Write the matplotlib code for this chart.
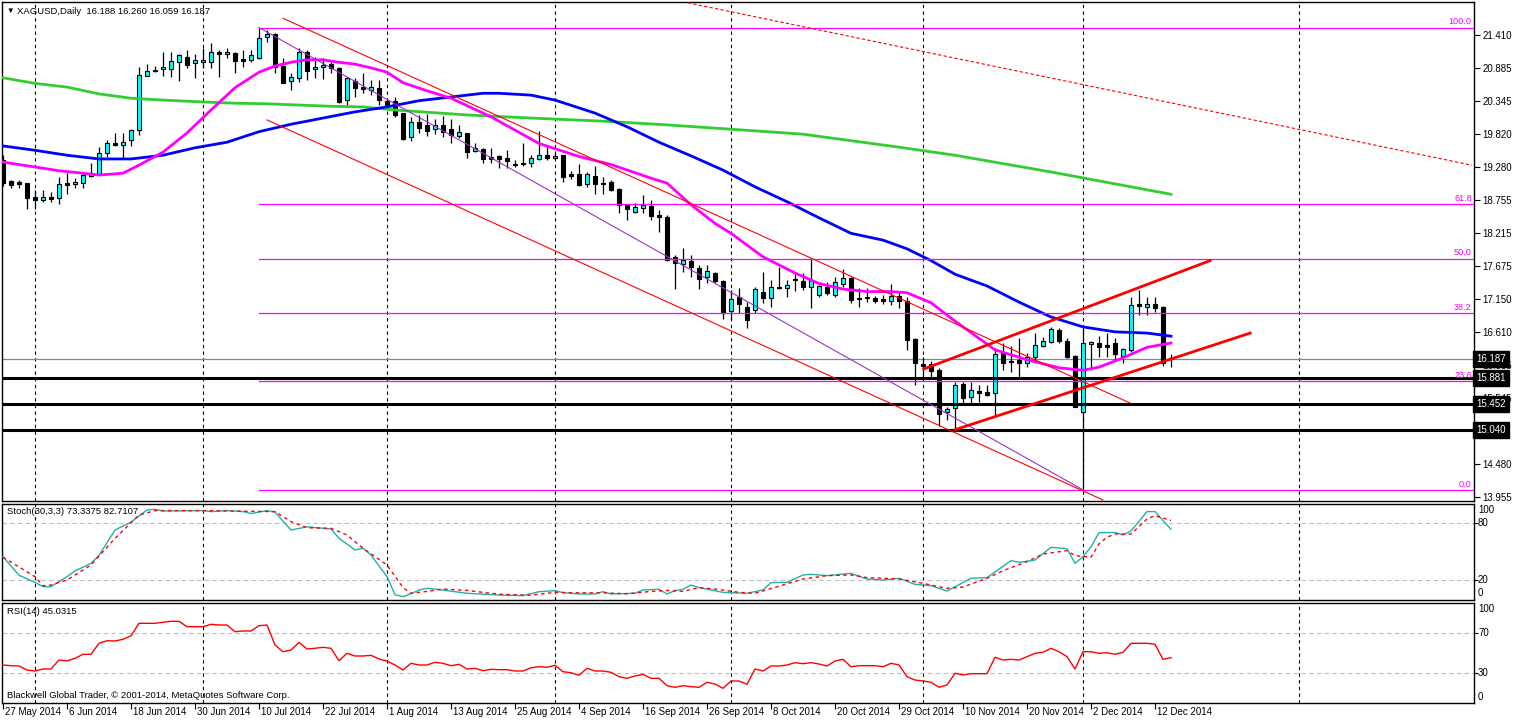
import matplotlib
matplotlib.use("Agg")
import matplotlib.pyplot as plt
import matplotlib.transforms as mtransforms
import numpy as np

plt.rcParams["font.family"] = ["Liberation Sans", "DejaVu Sans"]

# XAGUSD daily candles, 27 May 2014 .. 16 Dec 2014
opens = [
    19.39, 19.05, 19.04, 19.02, 18.80, 18.75, 18.80, 18.78, 19.02, 19.00,
    19.02, 19.14, 19.17, 19.51, 19.67, 19.64, 19.72, 19.88, 20.75, 20.85,
    20.86, 20.86, 20.97, 21.06, 20.96, 20.97, 20.97, 21.14, 21.10, 21.12,
    21.02, 21.01, 21.04, 21.38, 21.43, 20.91, 20.67, 20.72, 21.14, 20.86,
    20.89, 20.94, 20.88, 20.36, 20.67, 20.57, 20.52, 20.56, 20.35, 20.35,
    20.15, 19.77, 20.01, 19.96, 19.89, 19.96, 19.89, 19.78, 19.83, 19.54,
    19.57, 19.44, 19.46, 19.42, 19.33, 19.34, 19.34, 19.41, 19.47, 19.42,
    19.47, 19.17, 19.17, 19.01, 19.14, 19.02, 19.04, 18.92, 18.67, 18.55,
    18.62, 18.65, 18.51, 18.47, 17.83, 17.72, 17.76, 17.65, 17.51, 17.57,
    17.44, 16.96, 17.18, 17.02, 16.97, 17.26, 17.17, 17.34, 17.33, 17.47,
    17.44, 17.34, 17.22, 17.34, 17.22, 17.39, 17.49, 17.17, 17.18, 17.17,
    17.15, 17.12, 17.20, 17.12, 16.50, 16.10, 16.10, 16.00, 15.33, 15.39,
    15.78, 15.57, 15.66, 15.65, 15.63, 16.29, 16.15, 16.17, 16.12, 16.21,
    16.39, 16.46, 16.65, 16.47, 16.23, 15.33, 16.42, 16.44, 16.41, 16.44,
    16.23, 16.33, 17.07, 17.02, 17.07, 17.02, 16.188,
]
highs = [
    19.47, 19.07, 19.07, 19.03, 18.91, 18.91, 18.88, 19.12, 19.18, 19.10,
    19.18, 19.34, 19.60, 19.72, 19.83, 19.83, 19.89, 20.89, 20.94, 20.91,
    21.14, 21.14, 21.10, 21.17, 21.10, 21.20, 21.28, 21.17, 21.20, 21.14,
    21.17, 21.17, 21.53, 21.49, 21.44, 21.04, 20.80, 21.20, 21.17, 21.06,
    21.04, 20.97, 20.90, 20.73, 20.72, 20.80, 20.68, 20.68, 20.36, 20.41,
    20.15, 20.09, 20.12, 20.14, 20.05, 20.10, 20.05, 19.96, 19.83, 19.67,
    19.59, 19.59, 19.47, 19.55, 19.39, 19.67, 19.47, 19.86, 19.60, 19.51,
    19.47, 19.22, 19.33, 19.20, 19.30, 19.12, 19.07, 18.94, 18.67, 18.70,
    18.83, 18.75, 18.59, 18.51, 17.86, 17.97, 17.86, 17.70, 17.70, 17.59,
    17.46, 17.30, 17.33, 17.10, 17.34, 17.59, 17.46, 17.67, 17.46, 17.57,
    17.57, 17.81, 17.38, 17.42, 17.51, 17.63, 17.50, 17.33, 17.33, 17.20,
    17.21, 17.39, 17.26, 17.18, 16.52, 16.21, 16.15, 16.04, 15.41, 15.81,
    15.81, 15.81, 15.76, 15.76, 16.36, 16.44, 16.39, 16.52, 16.28, 16.60,
    16.54, 16.70, 16.68, 16.52, 16.25, 16.73, 16.47, 16.55, 16.60, 16.52,
    16.36, 17.18, 17.30, 17.18, 17.18, 17.04, 16.260,
]
lows = [
    18.97, 18.94, 18.94, 18.60, 18.60, 18.72, 18.72, 18.68, 18.84, 18.94,
    18.94, 19.12, 19.15, 19.44, 19.62, 19.43, 19.62, 19.80, 20.75, 20.81,
    20.75, 20.73, 20.67, 20.88, 20.72, 20.88, 20.88, 20.73, 21.04, 20.80,
    20.89, 20.97, 21.02, 21.30, 20.80, 20.64, 20.52, 20.65, 20.68, 20.72,
    20.70, 20.80, 20.31, 20.28, 20.41, 20.47, 20.44, 20.28, 20.23, 20.09,
    19.72, 19.70, 19.83, 19.78, 19.81, 19.77, 19.67, 19.75, 19.43, 19.52,
    19.34, 19.34, 19.26, 19.26, 19.28, 19.30, 19.28, 19.39, 19.39, 19.41,
    19.04, 19.09, 18.97, 18.96, 18.84, 18.84, 18.89, 18.54, 18.43, 18.54,
    18.54, 18.43, 18.23, 17.76, 17.31, 17.59, 17.51, 17.31, 17.41, 17.41,
    16.83, 16.81, 16.92, 16.68, 16.92, 17.09, 17.02, 17.31, 17.18, 17.28,
    17.30, 17.00, 17.18, 17.22, 17.18, 17.34, 17.09, 17.02, 17.10, 17.09,
    17.07, 17.05, 17.00, 16.33, 15.76, 15.88, 15.89, 15.10, 15.20, 15.04,
    15.47, 15.47, 15.49, 15.59, 15.25, 16.00, 15.97, 15.88, 16.05, 16.13,
    16.38, 16.44, 16.44, 16.20, 15.40, 14.07, 16.00, 16.21, 16.21, 16.17,
    16.12, 16.30, 16.89, 16.89, 16.94, 16.07, 16.059,
]
closes = [
    19.02, 18.99, 19.01, 18.78, 18.75, 18.80, 18.76, 19.01, 18.99, 19.04,
    19.15, 19.18, 19.51, 19.67, 19.64, 19.68, 19.88, 20.77, 20.83, 20.83,
    20.89, 20.99, 21.09, 20.93, 21.01, 21.01, 21.14, 21.10, 21.14, 20.99,
    20.99, 21.09, 21.36, 21.43, 20.89, 20.64, 20.73, 21.14, 20.83, 20.89,
    20.93, 20.88, 20.33, 20.72, 20.56, 20.54, 20.57, 20.36, 20.28, 20.12,
    19.73, 20.01, 19.91, 19.86, 19.96, 19.85, 19.80, 19.85, 19.52, 19.59,
    19.41, 19.41, 19.41, 19.38, 19.31, 19.33, 19.42, 19.47, 19.42, 19.46,
    19.12, 19.14, 18.99, 19.17, 19.01, 19.01, 18.91, 18.67, 18.60, 18.64,
    18.67, 18.49, 18.47, 17.78, 17.73, 17.78, 17.67, 17.47, 17.60, 17.44,
    16.92, 17.15, 17.07, 16.81, 17.31, 17.17, 17.34, 17.33, 17.38, 17.46,
    17.34, 17.46, 17.36, 17.25, 17.43, 17.49, 17.13, 17.15, 17.17, 17.12,
    17.12, 17.20, 17.12, 16.49, 16.12, 16.07, 15.99, 15.29, 15.38, 15.76,
    15.55, 15.68, 15.63, 15.60, 16.26, 16.12, 16.13, 16.12, 16.21, 16.41,
    16.47, 16.67, 16.47, 16.21, 15.41, 16.44, 16.46, 16.38, 16.38, 16.26,
    16.34, 17.05, 17.04, 17.07, 17.01, 16.12, 16.187,
]

# moving averages (bar index, price)
ma_fast_bars = [0, 4, 7, 10, 12, 15, 17, 20, 23, 26, 29, 32, 34, 36, 38, 40, 42, 44, 46, 48,
                50, 53, 56, 61, 67, 72, 76, 81, 83, 86, 89, 91, 95, 99, 102, 105, 108, 111, 113, 116,
                118, 120, 124, 128, 132, 135, 137, 140, 143, 146]
ma_fast = [19.36, 19.28, 19.22, 19.18, 19.15, 19.18, 19.31, 19.52, 19.83, 20.20,
           20.56, 20.81, 20.91, 20.97, 21.01, 21.01, 20.97, 20.94, 20.88, 20.81,
           20.64, 20.51, 20.39, 20.09, 19.66, 19.45, 19.32, 19.10, 19.02, 18.67,
           18.37, 18.21, 17.83, 17.57, 17.40, 17.31, 17.27, 17.27, 17.25, 17.09,
           16.89, 16.70, 16.33, 16.17, 16.04, 16.00, 16.05, 16.20, 16.37, 16.44]
ma_mid_bars = [0, 4, 8, 12, 16, 20, 24, 28, 32, 36, 40, 44, 48, 52, 56, 60, 62, 66, 69, 74,
               78, 82, 86, 90, 94, 98, 102, 106, 110, 113, 116, 119, 123, 127, 131, 135, 139, 143, 146]
ma_mid = [19.62, 19.55, 19.47, 19.41, 19.41, 19.47, 19.59, 19.68, 19.85, 19.97,
          20.07, 20.17, 20.25, 20.35, 20.41, 20.47, 20.47, 20.44, 20.36, 20.15,
          19.93, 19.68, 19.46, 19.23, 18.96, 18.72, 18.46, 18.21, 18.10, 17.96,
          17.77, 17.55, 17.36, 17.10, 16.86, 16.70, 16.62, 16.60, 16.55]
ma_slow_bars = [0, 4, 8, 12, 16, 20, 25, 29, 33, 37, 41, 45, 49, 58, 66, 75, 83, 91, 100, 112,
                119, 131, 146]
ma_slow = [20.72, 20.63, 20.57, 20.46, 20.39, 20.36, 20.33, 20.31, 20.30, 20.28,
           20.26, 20.25, 20.20, 20.12, 20.07, 20.02, 19.96, 19.89, 19.81, 19.60,
           19.47, 19.20, 18.84]

stoch_k_bars = [0, 2, 4, 5, 6, 8, 9, 11, 12, 14, 16, 18, 19, 20, 25, 26, 28, 30, 31, 33,
                34, 36, 38, 41, 42, 44, 45, 46, 48, 49, 50, 51, 52, 53, 54, 58, 62, 65, 67, 69,
                70, 72, 74, 75, 76, 79, 80, 82, 83, 84, 85, 86, 87, 90, 93, 95, 96, 98, 100, 101,
                103, 106, 108, 110, 112, 114, 116, 118, 121, 123, 126, 127, 129, 131, 133, 134, 135, 136, 137, 139,
                140, 141, 143, 144, 146]
stoch_k = [44.5, 25.0, 17.5, 13.0, 13.0, 23.5, 29.5, 37.5, 46.0, 72.6,
           81.0, 93.7, 94.4, 92.6, 93.0, 92.0, 93.0, 92.0, 90.0, 93.0,
           91.5, 72.6, 76.0, 73.7, 64.0, 51.6, 53.4, 46.3, 23.5, 4.5,
           2.5, 5.5, 9.5, 11.2, 10.5, 6.0, 4.2, 3.5, 7.7, 8.8,
           6.7, 5.3, 5.3, 7.7, 5.3, 6.0, 9.5, 10.2, 5.3, 8.8,
           10.2, 14.7, 12.0, 7.0, 6.0, 9.5, 17.2, 17.5, 25.3, 26.0,
           24.6, 27.0, 21.0, 20.0, 21.8, 15.4, 14.0, 8.4, 21.8, 22.5,
           40.4, 38.6, 41.0, 54.4, 53.0, 37.5, 44.5, 55.0, 69.8, 70.0,
           67.4, 71.6, 92.0, 92.0, 73.3]
stoch_d_bars = [0, 4, 5, 6, 8, 11, 14, 17, 19, 25, 34, 36, 38, 41, 43, 45, 48, 50, 51, 53,
                55, 58, 62, 66, 69, 72, 75, 78, 81, 83, 85, 87, 89, 92, 94, 96, 98, 100, 103, 106,
                108, 112, 115, 118, 120, 123, 125, 128, 130, 133, 134, 136, 137, 138, 139, 141, 143, 144, 146]
stoch_d = [44.0, 23.5, 14.0, 14.7, 20.0, 35.8, 63.9, 88.4, 93.0, 93.0,
           92.0, 81.4, 75.0, 74.4, 67.4, 53.4, 35.8, 12.0, 6.0, 8.0,
           10.5, 9.0, 5.0, 4.0, 7.0, 6.5, 6.5, 5.5, 8.0, 9.0,
           8.0, 12.0, 10.5, 7.0, 6.0, 11.0, 16.0, 21.0, 24.6, 25.3,
           22.5, 21.1, 16.5, 11.2, 12.6, 21.8, 29.8, 39.3, 47.4, 50.9,
           45.6, 44.0, 58.0, 65.0, 68.4, 68.4, 84.2, 87.7, 82.7]

rsi = [
    37.7, 37.0, 36.7, 32.7, 31.7, 33.7, 33.7, 42.7, 41.7, 44.4,
    48.4, 48.4, 59.4, 62.0, 61.7, 63.4, 67.0, 79.4, 79.4, 79.4,
    80.4, 81.4, 81.4, 76.0, 76.0, 76.0, 78.4, 77.7, 77.7, 71.0,
    71.7, 71.7, 77.0, 77.7, 57.7, 51.0, 52.7, 60.4, 53.7, 54.4,
    55.4, 54.4, 42.0, 49.4, 46.7, 46.7, 47.4, 43.7, 41.7, 37.7,
    32.7, 39.4, 37.7, 37.7, 40.4, 39.4, 37.0, 38.4, 33.7, 34.4,
    32.0, 33.4, 33.0, 33.0, 31.7, 31.7, 35.0, 36.0, 35.4, 37.4,
    31.0, 30.0, 27.4, 34.4, 31.7, 31.7, 30.4, 26.0, 24.4, 26.7,
    28.4, 24.4, 24.4, 17.0, 15.4, 17.0, 16.0, 15.4, 20.4, 18.7,
    14.4, 21.7, 21.7, 18.4, 33.7, 31.7, 36.7, 36.7, 37.7, 40.0,
    39.0, 40.0, 38.7, 36.7, 41.7, 43.4, 36.0, 37.0, 37.0, 37.0,
    36.0, 39.4, 37.7, 26.0, 22.7, 21.7, 20.4, 15.4, 17.7, 29.4,
    27.7, 29.0, 29.0, 29.0, 45.4, 42.7, 43.4, 42.7, 46.0, 49.4,
    50.4, 54.4, 51.0, 46.0, 33.7, 51.0, 51.0, 49.4, 50.0, 48.4,
    50.4, 59.4, 59.4, 59.4, 58.4, 43.4, 45.0,
]

date_bars = [0, 8, 16, 24, 32, 40, 48, 56, 64, 72, 80, 88, 96, 104, 112, 120, 128, 136, 144]
date_labels = ["27 May 2014", "6 Jun 2014", "18 Jun 2014", "30 Jun 2014", "10 Jul 2014",
               "22 Jul 2014", "1 Aug 2014", "13 Aug 2014", "25 Aug 2014", "4 Sep 2014",
               "16 Sep 2014", "26 Sep 2014", "8 Oct 2014", "20 Oct 2014", "29 Oct 2014",
               "10 Nov 2014", "20 Nov 2014", "2 Dec 2014", "12 Dec 2014"]
separator_bars = [4, 25, 48, 69, 91, 115, 135, 162]
price_ticks = [21.410, 20.885, 20.345, 19.820, 19.280, 18.755, 18.215, 17.675,
               17.150, 16.610, 16.085, 15.545, 14.480, 13.955]

support_levels = [15.881, 15.452, 15.040]
bid = 16.187
fib_ratios = [0.0, 23.6, 38.2, 50.0, 61.8, 100.0]
fib_start, fib_end = 32, 135

# drawn objects: (bar, price) end points
channel_top = [(35.0, 21.68), (140.9, 15.47)]
channel_bottom = [(33.0, 20.04), (137.5, 13.906)]
rising_top = [(115.1, 16.02), (150.9, 17.77)]
rising_bottom = [(119.0, 15.04), (155.9, 16.60)]
long_dotted = [(85.6, 21.93), (183.6, 19.31)]

W, H = 1514, 721
XMIN, XMAX = -0.125, 183.875
dash = (0, (3, 3))


def frame(ax):
    for s in ax.spines.values():
        s.set_color("black")
        s.set_linewidth(1.0)
    ax.set_xlim(XMIN, XMAX)
    ax.set_facecolor("white")
    for b in separator_bars:
        ax.axvline(b, color="black", lw=0.8, ls=dash, zorder=0.5)


fig = plt.figure(figsize=(W / 100, H / 100), dpi=100)
left, width = 2 / W, 1472 / W
ax = fig.add_axes([left, 1 - 501 / H, width, 499 / H])
ax_st = fig.add_axes([left, 1 - 600 / H, width, 96 / H])
ax_rsi = fig.add_axes([left, 1 - 703 / H, width, 100 / H])

# ---- price panel
frame(ax)
ax.set_ylim(13.890, 21.943)
x = np.arange(len(opens))
o, h, l, c = (np.array(v) for v in (opens, highs, lows, closes))
up = c > o
bottom = np.minimum(o, c)
height = np.maximum(np.abs(c - o), 0.012)
ax.vlines(x, l, h, color="black", lw=0.9, zorder=2)
ax.bar(x[up], height[up], bottom=bottom[up], width=0.6, color="#00FFFF",
       edgecolor="black", linewidth=0.8, zorder=2.2)
ax.bar(x[~up], height[~up], bottom=bottom[~up], width=0.6, color="black",
       edgecolor="black", linewidth=0.8, zorder=2.2)

ax.plot(ma_slow_bars, ma_slow, color="#32CD32", lw=2.0, zorder=3)
ax.plot(ma_mid_bars, ma_mid, color="#0000FF", lw=2.0, zorder=3)
ax.plot(ma_fast_bars, ma_fast, color="#FF00FF", lw=2.0, zorder=3)

ax.axhline(bid, color="#778899", lw=0.9, zorder=1.5)
for lvl in support_levels:
    ax.axhline(lvl, color="black", lw=2.2, zorder=4)

fib_hi, fib_lo = highs[fib_start], lows[fib_end]
ytr = mtransforms.blended_transform_factory(ax.transAxes, ax.transData)
for r in fib_ratios:
    lvl = fib_lo + r / 100 * (fib_hi - fib_lo)
    ax.plot([fib_start, XMAX], [lvl, lvl], color="#FF00FF", lw=0.9, zorder=4)
    ax.text(0.9985, lvl + 0.02, f"{r:.1f}", transform=ytr, ha="right", va="bottom",
            color="#FF00FF", fontsize=6.6, zorder=5)
ax.plot([fib_start, fib_end], [fib_hi, fib_lo], color="#9932CC", lw=0.8, zorder=4)

for seg in (channel_top, channel_bottom):
    ax.plot(*zip(*seg), color="red", lw=0.8, zorder=4)
for seg in (rising_top, rising_bottom):
    ax.plot(*zip(*seg), color="red", lw=2.0, zorder=4)
ax.plot(*zip(*long_dotted), color="red", lw=0.8, ls=(0, (3, 2)), zorder=4)

ax.set_xticks([])
ax.yaxis.tick_right()
ax.set_yticks(price_ticks, [f"{v:.3f}" for v in price_ticks])
ax.tick_params(axis="y", direction="out", length=4, width=0.8, pad=2, labelsize=7, colors="black")

for val in [bid] + support_levels:
    ax.text(1.0016, val, f"{val:.3f}", transform=ytr, ha="left", va="center", color="white",
            fontsize=7, zorder=10, clip_on=False,
            bbox=dict(boxstyle="square,pad=0.3", fc="black", ec="black"))

# ---- stochastic panel
frame(ax_st)
ax_st.set_ylim(-1.05, 100)
for lvl in (80, 20):
    ax_st.axhline(lvl, color="#C0C0C0", lw=0.8, ls=(0, (4, 3)), zorder=0.6)
ax_st.plot(stoch_k_bars, stoch_k, color="#20B2AA", lw=1.0, zorder=3)
ax_st.plot(stoch_d_bars, stoch_d, color="red", lw=1.0, ls=(0, (2.5, 2.5)), zorder=3)
ax_st.set_xticks([])
ax_st.yaxis.tick_right()
ax_st.set_yticks([80, 20], ["", ""])
ax_st.tick_params(axis="y", direction="out", length=3, width=0.8)

# ---- RSI panel
frame(ax_rsi)
ax_rsi.set_ylim(-0.3, 99.7)
for lvl in (70, 30):
    ax_rsi.axhline(lvl, color="#C0C0C0", lw=0.8, ls=(0, (4, 3)), zorder=0.6)
ax_rsi.plot(x, rsi, color="red", lw=1.0, zorder=3)
ax_rsi.yaxis.tick_right()
ax_rsi.set_yticks([70, 30], ["", ""])
ax_rsi.tick_params(axis="y", direction="out", length=3, width=0.8)
ax_rsi.set_xticks(date_bars, [""] * len(date_bars))
ax_rsi.tick_params(axis="x", direction="out", length=4, width=0.8)

xtr = mtransforms.blended_transform_factory(ax_rsi.transData, fig.transFigure)
for b, lab in zip(date_bars, date_labels):
    fig.text(b + 0.3, 1 - 712 / H, lab, transform=xtr, ha="left", va="center", fontsize=7)


def ftext(px, py, s, **kw):
    fig.text(px / W, 1 - py / H, s, va="center", ha="left", **kw)


for py, s in [(510, "100"), (523, "80"), (580, "20"), (593, "0"),
              (609, "100"), (633, "70"), (673, "30"), (697, "0")]:
    ftext(1478, py, s, fontsize=7)

ftext(6, 11, "\u25bc", fontsize=5.5)
ftext(17, 11, "XAGUSD,Daily  16.188 16.260 16.059 16.187", fontsize=6.8)
ftext(7, 512, "Stoch(30,3,3) 73.3375 82.7107", fontsize=6.8)
ftext(7, 612, "RSI(14) 45.0315", fontsize=6.8)
ftext(7, 696, "Blackwell Global Trader, \u00a9 2001-2014, MetaQuotes Software Corp.", fontsize=6.8)

fig.savefig("out.png", dpi=100)
plt.close(fig)
